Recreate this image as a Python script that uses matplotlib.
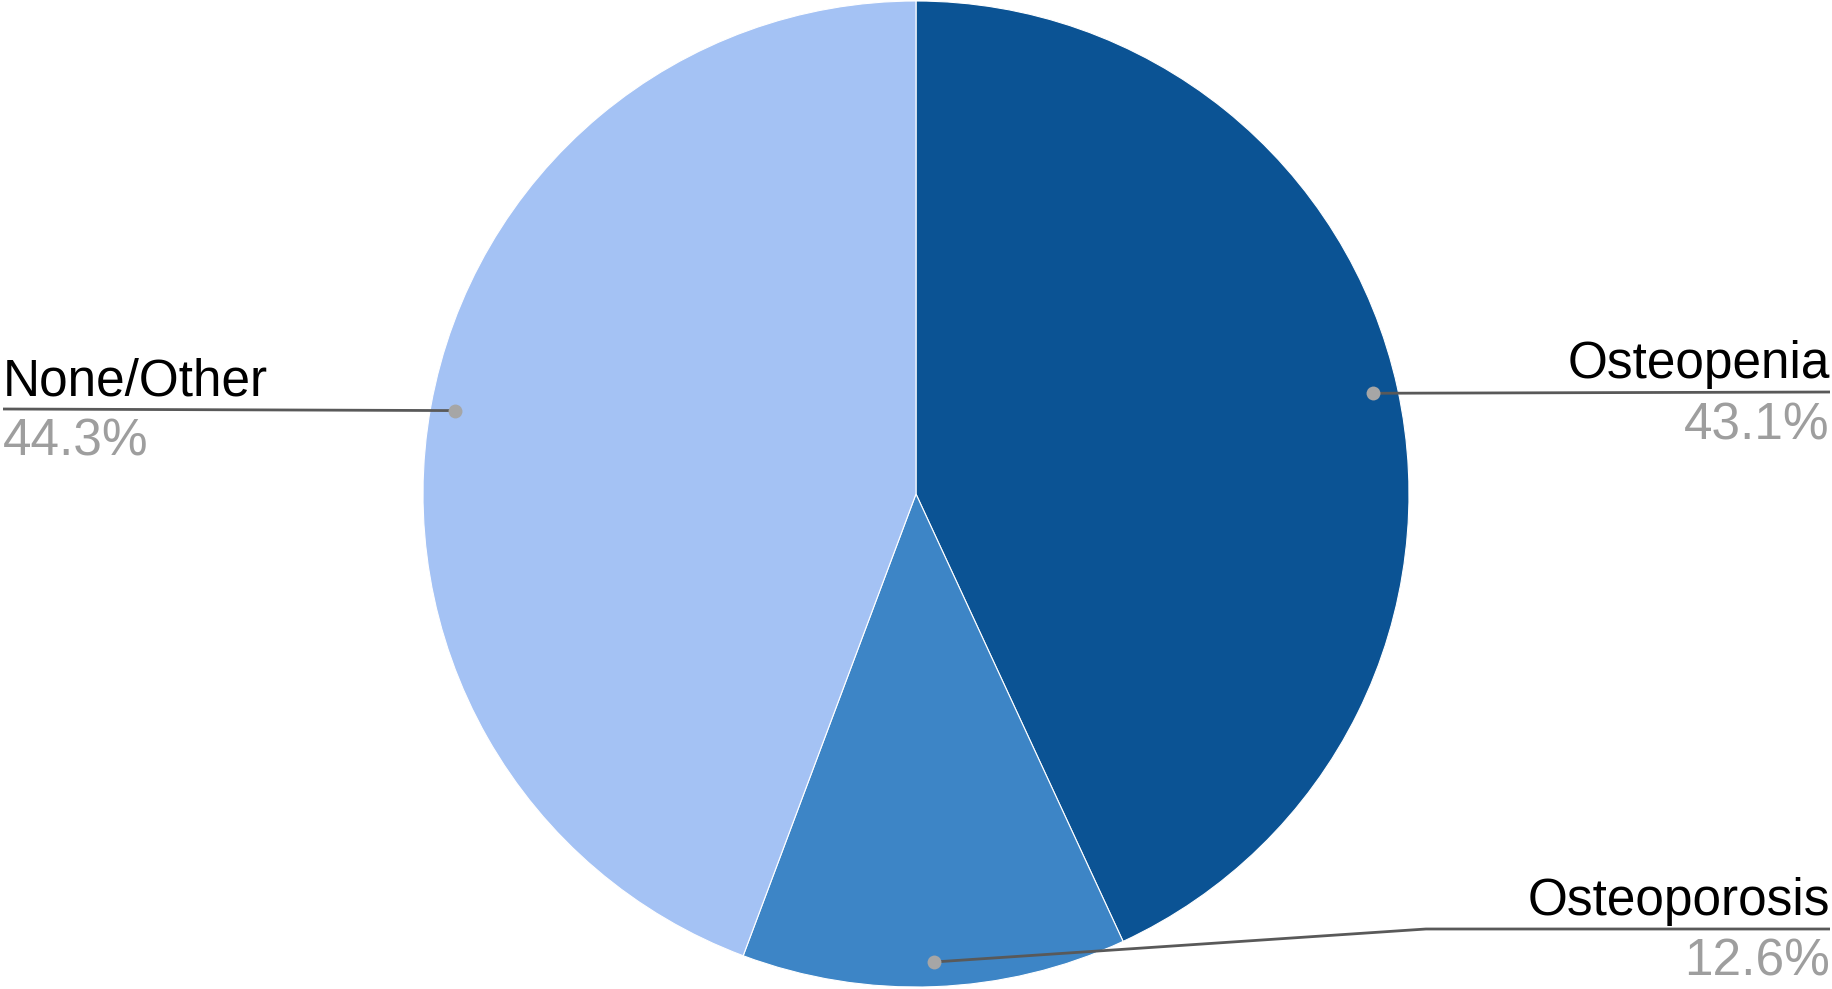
import numpy as np
import matplotlib.pyplot as plt

#--Chart data--#
labels = ["Osteopenia", "Osteoporosis", "None/Other"]
values = [43.1, 12.6, 44.3]
colors = ["#0b5394", "#3d85c6", "#a4c2f4"]

plt.rcParams['font.family'] = ['Liberation Sans', 'DejaVu Sans']

W, H = 1833, 989
fig = plt.figure(figsize=(W / 100, H / 100), dpi=100)
ax = fig.add_axes([0, 0, 1, 1])

cx, cy, R = 916, H - 494, 493
wedges, _ = ax.pie(values, colors=colors, startangle=90, counterclock=False,
                   center=(cx, cy), radius=R,
                   wedgeprops=dict(edgecolor="white", linewidth=0.8))
ax.set_xlim(0, W)
ax.set_ylim(0, H)
ax.set_aspect('equal')
ax.axis('off')

# leader-line layout: (side, y of horizontal line in px from top, elbow x or None)
layout = {
    "Osteopenia": ("right", 392, None),
    "Osteoporosis": ("right", 929, 1426),
    "None/Other": ("left", 409, None),
}

for w, lab, val in zip(wedges, labels, values):
    mid = np.deg2rad((w.theta1 + w.theta2) / 2)
    dx, dy = cx + 0.95 * R * np.cos(mid), cy + 0.95 * R * np.sin(mid)
    side, ly, elbow = layout[lab]
    ly = H - ly
    if side == "right":
        xe, ha = W - 3, 'right'
    else:
        xe, ha = 3, 'left'
    if elbow is None:
        xs, ys = [dx, xe], [dy, ly]
    else:
        xs, ys = [dx, elbow, xe], [dy, ly, ly]
    ax.plot(xs, ys, color="#595959", lw=2, solid_capstyle='butt', zorder=3)
    ax.plot(dx, dy, 'o', color="#a6a6a6", ms=10, mec="none", zorder=4)
    ax.text(xe, ly + 14, lab, ha=ha, va='baseline', fontsize=37, color="black")
    ax.text(xe, ly - 47, f"{val}%", ha=ha, va='baseline', fontsize=37,
            color="#9e9e9e")

fig.savefig("out.png", dpi=100, facecolor="white")
